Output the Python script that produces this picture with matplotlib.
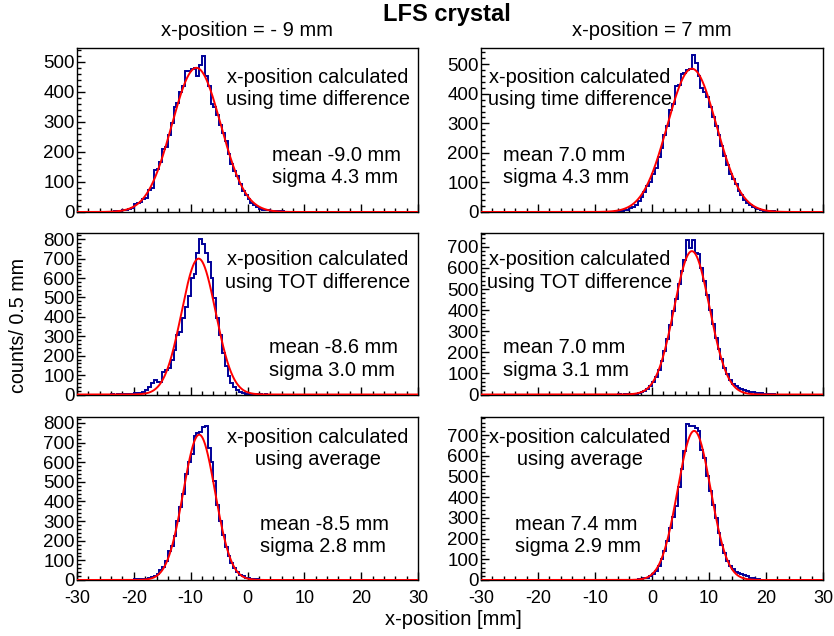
import numpy as np
import matplotlib.pyplot as plt
from matplotlib.ticker import MultipleLocator, NullFormatter

plt.rcParams['font.family'] = ['Liberation Sans', 'DejaVu Sans']
plt.rcParams['axes.unicode_minus'] = False

W, H = 834, 636

# counts per 0.5 mm bin, list starts at the given lower bin edge [mm]
tl_start = -26.0
tl_counts = [0, 0, 1, 0, 1, 2, 2, 3, 8, 8, 10, 14, 28, 30, 34, 42, 48, 74, 80, 140,
             142, 168, 210, 215, 258, 295, 350, 362, 398, 418, 469, 470, 475, 478, 452,
             490, 518, 454, 420, 360, 350, 322, 290, 262, 238, 192, 160, 138, 120, 92,
             70, 56, 42, 31, 22, 15, 11, 8, 7, 5, 4, 3, 3, 2, 2, 1, 1, 1]
tr_start = -8.0
tr_counts = [0, 1, 1, 2, 3, 4, 6, 8, 12, 18, 25, 36, 52, 66, 88, 100, 128, 150, 185, 215,
             262, 292, 346, 365, 425, 430, 466, 470, 481, 484, 532, 505, 460, 420, 405,
             390, 357, 320, 290, 262, 225, 190, 160, 130, 110, 96, 70, 58, 42, 32, 22,
             18, 12, 9, 6, 5, 3, 2, 2, 1, 1, 0, 1]
ml_start = -24.0
ml_counts = [1, 0, 1, 2, 1, 2, 4, 3, 6, 8, 10, 14, 22, 38, 58, 75, 62, 64, 115, 125,
             135, 178, 228, 305, 320, 392, 450, 505, 600, 620, 730, 800, 775, 730, 685,
             600, 495, 395, 305, 215, 145, 95, 60, 38, 24, 14, 8, 5, 3, 2, 2, 1, 1, 0, 1]
mr_start = -6.0
mr_counts = [1, 0, 1, 1, 2, 2, 4, 6, 10, 16, 26, 40, 60, 85, 118, 160, 205, 262, 330, 395,
             455, 525, 585, 640, 731, 695, 731, 672, 668, 600, 540, 470, 400, 335, 270,
             215, 168, 128, 95, 70, 52, 40, 32, 26, 22, 18, 14, 12, 9, 7, 5, 3, 2, 1, 1]
bl_start = -24.0
bl_counts = [1, 0, 1, 0, 1, 1, 2, 1, 6, 4, 3, 5, 7, 10, 14, 22, 30, 50, 68, 95,
             150, 172, 225, 300, 372, 440, 540, 600, 640, 731, 749, 752, 780, 785, 670,
             600, 505, 380, 300, 230, 170, 120, 85, 62, 42, 28, 18, 12, 8, 5, 4, 3, 2,
             2, 1, 2, 1, 1, 1]
br_start = -6.0
br_counts = [1, 0, 1, 1, 0, 2, 1, 3, 5, 8, 12, 20, 30, 45, 68, 100, 140, 190, 250, 305,
             355, 450, 535, 625, 752, 744, 742, 735, 721, 628, 590, 500, 430, 360, 300,
             228, 170, 128, 92, 70, 52, 40, 34, 30, 26, 18, 12, 8, 5, 3, 2, 2, 1, 1]

# gaussian fit results per panel (TL, TR, ML, MR, BL, BR)
fit_amp = [480, 485, 700, 680, 740, 720]
fit_mean = [-9.0, 7.0, -8.6, 7.0, -8.5, 7.4]
fit_sigma = [4.3, 4.3, 3.0, 3.1, 2.8, 2.9]

methods = ['using time difference', 'using TOT difference', 'using average']
col_titles = ['x-position = - 9 mm', 'x-position = 7 mm']
y_max = [546, 555, 832, 766, 830, 787]

starts = [tl_start, tr_start, ml_start, mr_start, bl_start, br_start]
counts = [tl_counts, tr_counts, ml_counts, mr_counts, bl_counts, br_counts]

edges = np.arange(-30, 30.25, 0.5)
xfit = np.linspace(-30, 30, 1201)

# layout in pixels
cols = [(77, 418), (481, 823)]
rows = [(48, 212), (233, 394.5), (417, 580)]
# text anchors: centre x of the method lines per column, left x of mean/sigma lines
txt_cx = [317.5, 580]
txt_lx = [[272, 503], [269, 503], [260, 515]]
base_method = [(83, 105), (265, 288), (443, 465)]
base_mean = [(161, 183), (353, 376), (530, 552)]

fig = plt.figure(figsize=(W / 100, H / 100), dpi=100)


def fx(x):
    return x / W


def fy(y):
    return 1 - y / H


for r in range(3):
    for c in range(2):
        i = r * 2 + c
        x0, x1 = cols[c]
        y0, y1 = rows[r]
        ax = fig.add_axes([fx(x0), fy(y1), (x1 - x0) / W, (y1 - y0) / H])

        full = np.zeros(len(edges) - 1)
        k = int(round((starts[i] + 30) / 0.5))
        full[k:k + len(counts[i])] = counts[i]
        ax.stairs(full, edges, color='#000099', lw=1.4, zorder=2)

        g = fit_amp[i] * np.exp(-0.5 * ((xfit - fit_mean[i]) / fit_sigma[i]) ** 2)
        ax.plot(xfit, g, color='#ff0000', lw=1.4, zorder=3)

        ax.set_xlim(-30, 30)
        ax.set_ylim(0, y_max[i])
        ax.xaxis.set_major_locator(MultipleLocator(10))
        ax.xaxis.set_minor_locator(MultipleLocator(2))
        ax.yaxis.set_major_locator(MultipleLocator(100))
        ax.yaxis.set_minor_locator(MultipleLocator(20))
        ax.tick_params(which='both', direction='in', top=False, right=False,
                       width=1.0, color='black')
        ax.tick_params(which='major', length=5.8)
        ax.tick_params(which='minor', length=2.9)
        ax.tick_params(axis='y', pad=1.5, labelsize=13.5)
        ax.tick_params(axis='x', pad=7.5, labelsize=13)
        if r < 2:
            ax.xaxis.set_major_formatter(NullFormatter())
        for s in ax.spines.values():
            s.set_linewidth(1.0)

        fs = 14.4
        fig.text(fx(txt_cx[c]), fy(base_method[r][0]), 'x-position calculated',
                 ha='center', va='baseline', fontsize=fs)
        fig.text(fx(txt_cx[c]), fy(base_method[r][1]), methods[r],
                 ha='center', va='baseline', fontsize=fs)
        fig.text(fx(txt_lx[r][c]), fy(base_mean[r][0]), f'mean {fit_mean[i]:.1f} mm',
                 ha='left', va='baseline', fontsize=fs)
        fig.text(fx(txt_lx[r][c]), fy(base_mean[r][1]), f'sigma {fit_sigma[i]:.1f} mm',
                 ha='left', va='baseline', fontsize=fs)

fig.text(fx(447), fy(21.5), 'LFS crystal', ha='center', va='baseline',
         fontsize=17, fontweight='bold')
fig.text(fx(247), fy(36.5), col_titles[0], ha='center', va='baseline', fontsize=14.5)
fig.text(fx(652), fy(36.5), col_titles[1], ha='center', va='baseline', fontsize=14.5)
fig.text(fx(19), fy(325), 'counts/ 0.5 mm', rotation=90, ha='center', va='center',
         fontsize=14.2)
fig.text(fx(453), fy(625), 'x-position [mm]', ha='center', va='baseline', fontsize=14.5)

fig.savefig('out.png', dpi=100)
